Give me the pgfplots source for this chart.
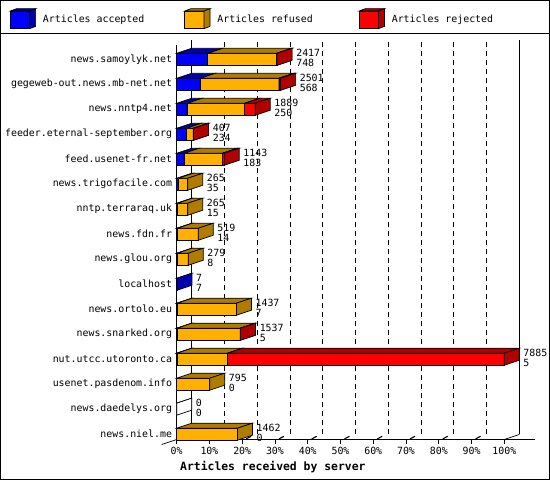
\documentclass[border=0pt]{standalone}
\usepackage{pgfplots}
\pgfplotsset{compat=1.18}
\usepackage{pgfplotstable}
\usepackage{fontspec}
\setmainfont{DejaVu Sans Mono}

\definecolor{accF}{HTML}{0000FF}
\definecolor{accD}{HTML}{0000B0}
\definecolor{refF}{HTML}{FFB000}
\definecolor{refD}{HTML}{B07C00}
\definecolor{rejF}{HTML}{FF0000}
\definecolor{rejD}{HTML}{B00000}

\newcommand\lab{\fontsize{9.9}{10.5}\selectfont}

% one row per server, top to bottom
\pgfplotstableread{
row acc ref  rej  tot
1   748 1660 9    2417
2   568 1893 40   2501
3   250 1384 255  1889
4   234 163  10   407
5   183 920  40   1143
6   35  230  0    265
7   15  250  0    265
8   14  505  0    519
9   8   271  0    279
10  7   0    0    7
11  7   1430 0    1437
12  5   1522 10   1537
13  5   1222 6658 7885
14  0   795  0    795
15  0   0    0    0
16  0   1462 0    1462
}\servers

\pgfdeclareplotmark{void}{}

% 3d slab starting at the data point, \len articles long
\newcommand\slab[2]{%
  \pgfmathsetmacro\w{\len*0.041547}%
  \filldraw[fill=#1,draw=black,line width=0.7pt] (0pt,-6pt) rectangle (\w pt,6pt);
  \filldraw[fill=#2,draw=black,line width=0.7pt] (0pt,6pt) -- (15pt,11pt) -- (\w pt+15pt,11pt) -- (\w pt,6pt) -- cycle;
  \filldraw[fill=#2,draw=black,line width=0.7pt] (\w pt,-6pt) -- (\w pt+15pt,-1pt) -- (\w pt+15pt,11pt) -- (\w pt,6pt) -- cycle;
}
\newcommand\cubeicon[2]{%
  \filldraw[fill=#1,draw=black,line width=0.7pt] (0pt,-8.8pt) rectangle (19.3pt,8.8pt);
  \filldraw[fill=#2,draw=black,line width=0.7pt] (0pt,8.8pt) -- (6pt,11.1pt) -- (25.3pt,11.1pt) -- (19.3pt,8.8pt) -- cycle;
  \filldraw[fill=#2,draw=black,line width=0.7pt] (19.3pt,-8.8pt) -- (25.3pt,-6.5pt) -- (25.3pt,11.1pt) -- (19.3pt,8.8pt) -- cycle;
}

\pgfplotsset{
  slabplot/.style n args={3}{
    scatter, only marks, mark=void,
    visualization depends on={\thisrow{#1} \as \len},
    scatter/@pre marker code/.code={\slab{#2}{#3}},
    scatter/@post marker code/.code={},
    restrict expr to domain={\thisrow{#1}}{0.5:100000},
  },
}

\begin{document}
\begin{tikzpicture}
\useasboundingbox (-176.7pt,-40.5pt) rectangle (373.3pt,439.5pt);
\begin{axis}[
  scale only axis, width=327.6pt, height=394.8pt,
  xmin=0, xmax=7885, ymin=-16.212, ymax=-0.416,
  clip=false,
  axis line style={draw=none},
  xtick={0,788.5,1577,2365.5,3154,3942.5,4731,5519.5,6308,7096.5,7885},
  xticklabels={0\%,10\%,20\%,30\%,40\%,50\%,60\%,70\%,80\%,90\%,100\%},
  xtick pos=bottom,
  ytick={-16,-15,...,-1},
  yticklabels={news.niel.me,news.daedelys.org,usenet.pasdenom.info,nut.utcc.utoronto.ca,news.snarked.org,news.ortolo.eu,localhost,news.glou.org,news.fdn.fr,nntp.terraraq.uk,news.trigofacile.com,feed.usenet-fr.net,feeder.eternal-september.org,news.nntp4.net,gegeweb-out.news.mb-net.net,news.samoylyk.net},
  ytick pos=left,
  tick align=outside,
  major tick length=4.5pt,
  x tick style={black, line width=0.7pt},
  y tick style={draw=none},
  tick label style={font=\lab, inner sep=0pt},
  x tick label style={yshift=-3pt},
  xmajorgrids,
  grid style={black, line width=0.7pt, dash pattern=on 5pt off 4pt, xshift=15pt, yshift=5pt},
  xlabel={Articles received by server},
  xlabel style={at={(axis description cs:0,0)}, anchor=west, inner sep=0pt,
    xshift=3.3pt, yshift=-27.2pt, font=\fontsize{11.4}{13}\selectfont\bfseries},
  legend columns=3,
  legend cell align=left,
  legend style={at={(axis description cs:0,1)}, anchor=north west,
    xshift=-166.7pt, yshift=36.3pt, draw=none, fill=none,
    inner sep=0pt, outer sep=0pt, font=\lab, nodes={inner sep=0pt},
    /tikz/every odd column/.append style={column sep=7pt},
    /tikz/every even column/.append style={column sep=11.4pt}},
  legend entries={\makebox[130pt][l]{Articles accepted},\makebox[130pt][l]{Articles refused},Articles rejected},
]
\addlegendimage{legend image code/.code={\cubeicon{accF}{accD}}}
\addlegendimage{legend image code/.code={\cubeicon{refF}{refD}}}
\addlegendimage{legend image code/.code={\cubeicon{rejF}{rejD}}}

% walls and floor
\draw[line width=0.7pt] ([shift={(15pt,5pt)}]axis description cs:0,0) -- ([shift={(15pt,5pt)}]axis description cs:0,1);
\draw[line width=0.7pt] ([shift={(15pt,5pt)}]axis description cs:1,0) -- ([shift={(15pt,5pt)}]axis description cs:1,1);
\draw[line width=0.7pt] ([shift={(15pt,5pt)}]axis description cs:0,0) -- ++(-30pt,-10pt);
\draw[line width=0.7pt] (axis description cs:1,0) -- ++(15pt,5pt);
\draw[line width=0.7pt] (axis description cs:0,1) -- (axis description cs:0,0) -- ++(358.3pt,0pt);
% little depth marks on the floor
\pgfplotsinvokeforeach{1,...,9}{
  \draw[line width=1.1pt] ([shift={(4pt,0.6pt)}]axis cs:#1*788.5,-16.212) -- ++(5pt,2.6pt);
}

\addplot[slabplot={acc}{accF}{accD}] table[x expr=0, y expr=-\thisrow{row}] {\servers};
\addplot[slabplot={ref}{refF}{refD}] table[x=acc, y expr=-\thisrow{row}] {\servers};
\addplot[slabplot={rej}{rejF}{rejD}] table[x expr=\thisrow{acc}+\thisrow{ref}, y expr=-\thisrow{row}] {\servers};
% server with no articles at all: empty outline
\addplot[scatter, only marks, mark=void,
  visualization depends on={\thisrow{tot} \as \len},
  scatter/@pre marker code/.code={\slab{white}{white}},
  scatter/@post marker code/.code={},
  restrict expr to domain={\thisrow{tot}}{-1:0.5}]
  table[x=tot, y expr=-\thisrow{row}] {\servers};

% totals and accepted counts
\addplot[only marks, mark=void, point meta=explicit symbolic,
  visualization depends on={\thisrow{acc} \as \accv},
  nodes near coords={\pgfplotspointmeta\\\pgfmathprintnumber[fixed,precision=0,1000 sep={},assume math mode=true]{\accv}},
  every node near coord/.append style={anchor=west, align=left, inner sep=0pt,
    xshift=19pt, yshift=1.5pt, font=\lab, black}]
  table[x=tot, y expr=-\thisrow{row}, meta=tot] {\servers};
\end{axis}
\draw[line width=1pt] (-176.2pt,-40pt) rectangle (372.8pt,439pt);
\draw[line width=1pt] (-176.7pt,405.5pt) -- (373.3pt,405.5pt);
\end{tikzpicture}
\end{document}
